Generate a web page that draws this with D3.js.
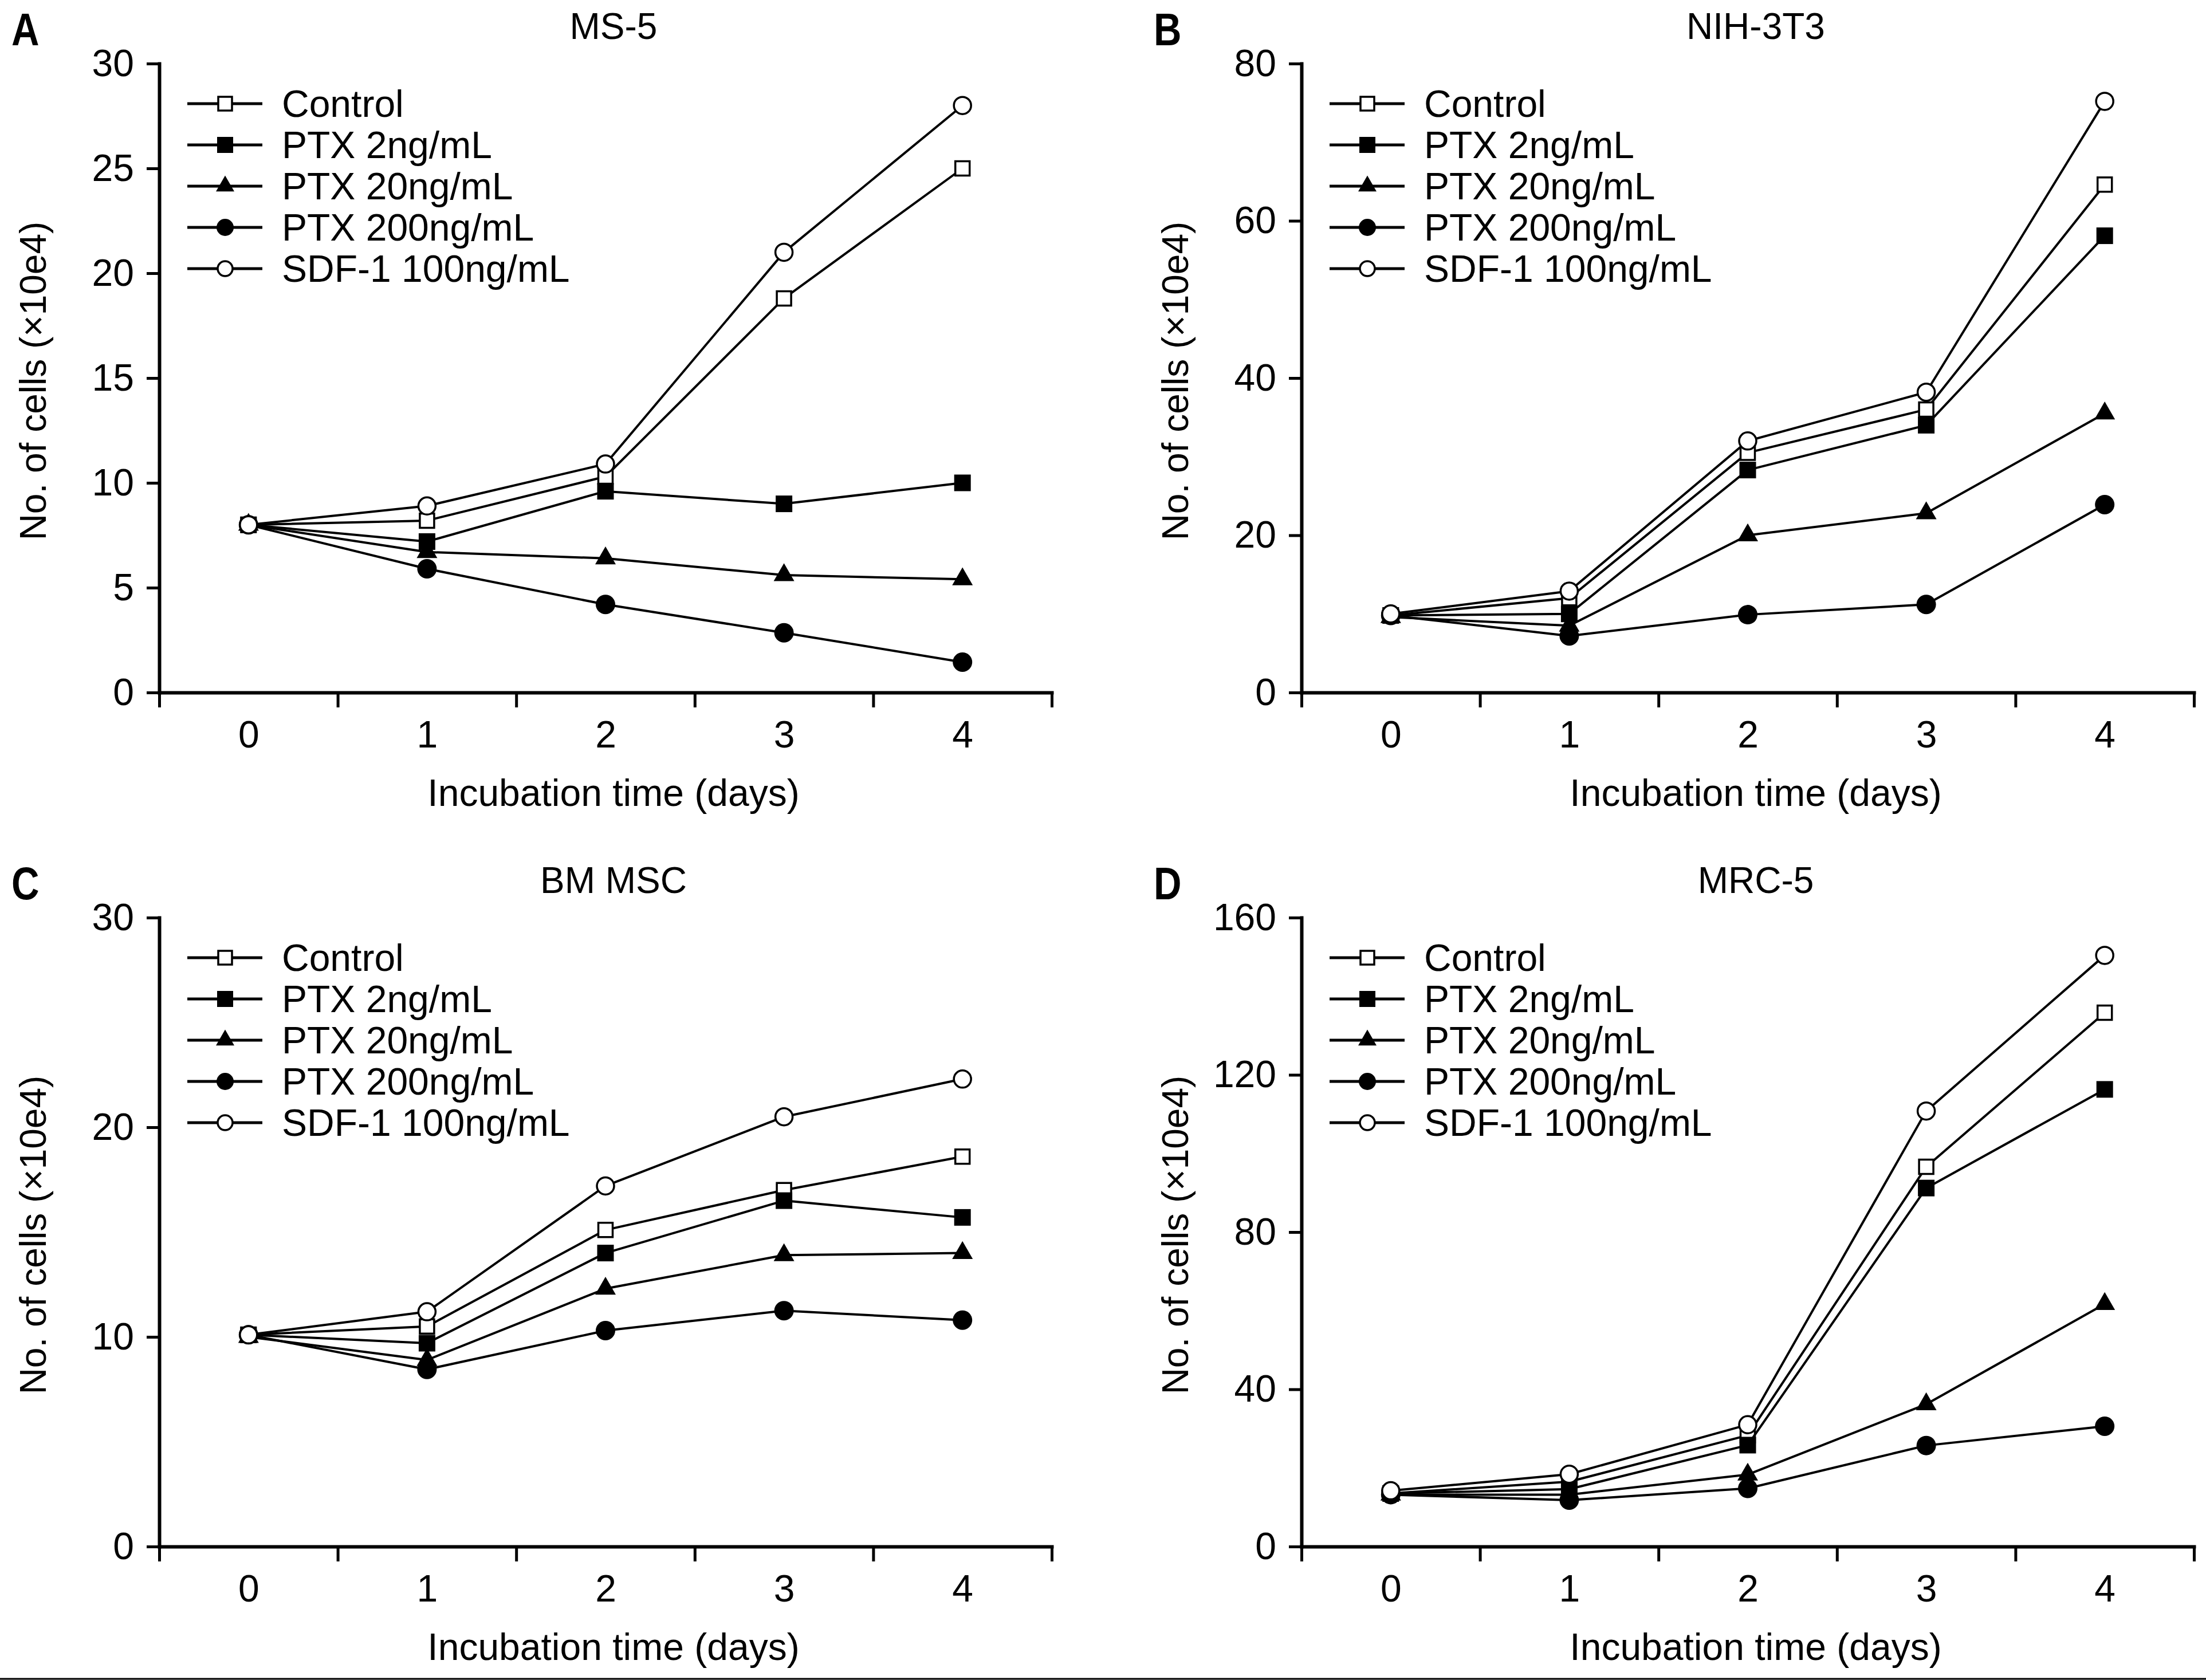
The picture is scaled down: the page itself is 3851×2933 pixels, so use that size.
<!DOCTYPE html>
<html>
<head>
<meta charset="utf-8">
<script src="https://cdn.jsdelivr.net/npm/d3@7"></script>
<style>
	body { margin: 0; background: #fff; }
	text { font-family: "Liberation Sans", Arial, Helvetica, sans-serif; fill: #000; }
</style>
</head>
<body>
<div id="chart"></div>
<script>
// Data ////////////////////////////////////////////////////////////////////////
const days = [0, 1, 2, 3, 4];
const seriesNames = ["Control", "PTX 2ng/mL", "PTX 20ng/mL", "PTX 200ng/mL", "SDF-1 100ng/mL"];
const seriesShapes = ["squareOpen", "square", "triangle", "circle", "circleOpen"];

const panelLetters = ["A", "B", "C", "D"];
const panelTitles = ["MS-5", "NIH-3T3", "BM MSC", "MRC-5"];
const yTicksA = [0, 5, 10, 15, 20, 25, 30];
const yTicksB = [0, 20, 40, 60, 80];
const yTicksC = [0, 10, 20, 30];
const yTicksD = [0, 40, 80, 120, 160];

// one row per series, one value per day (x10e4 cells)
const ms5Values = [
	[8.0, 8.2, 10.3, 18.8, 25.0],
	[8.0, 7.2, 9.6, 9.0, 10.0],
	[8.0, 6.7, 6.4, 5.6, 5.4],
	[8.0, 5.9, 4.2, 2.85, 1.45],
	[8.0, 8.9, 10.9, 21.0, 28.0]
];
const nih3t3Values = [
	[9.8, 12.0, 30.5, 36.0, 64.6],
	[9.8, 10.0, 28.3, 34.0, 58.1],
	[9.6, 8.5, 20.0, 22.8, 35.5],
	[9.8, 7.2, 9.9, 11.2, 23.9],
	[10.0, 12.9, 32.0, 38.2, 75.2]
];
const bmMscValues = [
	[10.1, 10.5, 15.1, 17.0, 18.6],
	[10.1, 9.7, 14.0, 16.5, 15.7],
	[10.0, 8.9, 12.3, 13.9, 14.0],
	[10.1, 8.45, 10.3, 11.25, 10.8],
	[10.1, 11.2, 17.2, 20.5, 22.3]
];
const mrc5Values = [
	[13.5, 16.5, 28.3, 96.6, 135.8],
	[13.5, 14.6, 25.8, 91.2, 116.3],
	[13.2, 13.2, 18.3, 36.2, 61.7],
	[13.2, 11.8, 14.8, 25.7, 30.6],
	[14.2, 18.4, 31.0, 110.8, 150.4]
];

const panelValues = [ms5Values, nih3t3Values, bmMscValues, mrc5Values];
const panelTicks = [yTicksA, yTicksB, yTicksC, yTicksD];

(function() {
	function show() {

		// Global constants
		const W = 3851, H = 2933;
		const plot = {left: 278, top: 111, width: 1558, height: 1098},
					colStep = 1994,
					rowStep = 1491;

		const fontSize = 66,
					axisStroke = 6,
					lineStroke = 4;

		const svg = d3.select("#chart")
			.append("svg")
				.attr("width", W)
				.attr("height", H);

		svg.append("rect")
			.attr("width", W)
			.attr("height", H)
			.attr("fill", "#fff");

		// thin rule at the very bottom of the figure
		svg.append("line")
			.attr("x1", 0).attr("x2", W)
			.attr("y1", H - 2).attr("y2", H - 2)
			.attr("stroke", "#000")
			.attr("stroke-width", 3);

		// Marker drawing
		function marker(sel, shape, s) {
			const open = shape.endsWith("Open");
			let type, size;
			if (shape.startsWith("square")) {
				type = d3.symbolSquare; size = (open ? s.sq - 4 : s.sq) ** 2;
			} else if (shape === "triangle") {
				type = d3.symbolTriangle;
				const yy = s.tri / (2 * Math.sqrt(3));
				size = yy * yy * 3 * Math.sqrt(3);
			} else {
				type = d3.symbolCircle;
				const r = open ? s.r - 2 : s.r;
				size = Math.PI * r * r;
			}
			sel.append("path")
				.attr("d", d3.symbol().type(type).size(size))
				.attr("fill", open ? "#fff" : "#000")
				.attr("stroke", open ? "#000" : "none")
				.attr("stroke-width", open ? 3.5 : 0);
		}

		const dataMarker = {sq: 29, r: 17, tri: 36},
					legendMarker = {sq: 28, r: 15, tri: 32};

		panelLetters.forEach((letter, p) => {
			const col = p % 2, row = Math.floor(p / 2);
			const ticks = panelTicks[p];
			const values = panelValues[p];

			const g = svg.append("g")
				.attr("transform", `translate(${plot.left + col * colStep}, ${plot.top + row * rowStep})`);

			// Scales
			const x = d3.scaleLinear()
				.domain([days[0] - 0.5, days[days.length - 1] + 0.5])
				.range([0, plot.width]);

			const y = d3.scaleLinear()
				.domain([0, d3.max(ticks)])
				.range([plot.height, 0]);

			/////////////////////////////////////////////////////////////////////////
			// Axes
			const edges = days.map(d => d - 0.5).concat([days[days.length - 1] + 0.5]);

			const xAxisG = g.append("g")
				.attr("transform", `translate(0, ${plot.height})`)
				.call(d3.axisBottom(x)
					.tickValues(edges)
					.tickFormat("")
					.tickSize(26)
					.tickSizeOuter(0));

			const xLabelG = g.append("g")
				.attr("transform", `translate(0, ${plot.height})`)
				.call(d3.axisBottom(x)
					.tickValues(days)
					.tickSize(0)
					.tickPadding(49)
					.tickFormat(d3.format("d")));
			xLabelG.select(".domain").remove();

			const yAxisG = g.append("g")
				.call(d3.axisLeft(y)
					.tickValues(ticks)
					.tickSize(22)
					.tickPadding(22)
					.tickSizeOuter(0));

			[xAxisG, xLabelG, yAxisG].forEach(a => {
				a.attr("font-family", null).attr("font-size", fontSize);
				a.select(".domain").attr("stroke-width", axisStroke).attr("stroke-linecap", "square");
				a.selectAll(".tick line").attr("stroke-width", 5);
				a.selectAll(".tick text").attr("fill", "#000");
			});

			/////////////////////////////////////////////////////////////////////////
			// Texts
			g.append("text")
				.attr("x", plot.width / 2 + 14)
				.attr("y", -43)
				.attr("text-anchor", "middle")
				.attr("font-size", 64)
				.text(panelTitles[p]);

			g.append("text")
				.attr("transform", `translate(${20 - plot.left}, ${79 - plot.top}) scale(0.84, 1)`)
				.attr("font-size", 80)
				.attr("font-weight", "bold")
				.text(letter);

			g.append("text")
				.attr("transform", `translate(${80 - plot.left}, ${plot.height / 2 + 5}) rotate(-90)`)
				.attr("text-anchor", "middle")
				.attr("font-size", 64)
				.text("No. of cells (\u00d710e4)");

			g.append("text")
				.attr("x", plot.width / 2 + 14)
				.attr("y", plot.height + 198)
				.attr("text-anchor", "middle")
				.attr("font-size", fontSize)
				.text("Incubation time (days)");

			/////////////////////////////////////////////////////////////////////////
			// Series
			const line = d3.line()
				.x((d, i) => x(days[i]))
				.y(d => y(d));

			values.forEach((vals, s) => {
				const sg = g.append("g");
				sg.append("path")
					.attr("d", line(vals))
					.attr("fill", "none")
					.attr("stroke", "#000")
					.attr("stroke-width", lineStroke)
					.attr("stroke-linejoin", "round");

				sg.selectAll("g.pt")
					.data(vals)
					.enter()
					.append("g")
						.attr("class", "pt")
						.attr("transform", (d, i) => `translate(${x(days[i])}, ${y(d)})`)
						.each(function() { marker(d3.select(this), seriesShapes[s], dataMarker); });
			});

			/////////////////////////////////////////////////////////////////////////
			// Legend
			const legend = g.append("g")
				.attr("transform", "translate(49, 70)");

			const rows = legend.selectAll("g")
				.data(seriesNames)
				.enter()
				.append("g")
					.attr("transform", (d, i) => `translate(0, ${i * 72})`);

			rows.append("line")
				.attr("x1", 0).attr("x2", 131)
				.attr("stroke", "#000")
				.attr("stroke-width", 5);

			rows.append("g")
				.attr("transform", "translate(66, 0)")
				.each(function(d, i) { marker(d3.select(this), seriesShapes[i], legendMarker); });

			rows.append("text")
				.attr("x", 165)
				.attr("y", 23)
				.attr("font-size", fontSize)
				.text(d => d);
		});
	}

	show();
})();
</script>
</body>
</html>
